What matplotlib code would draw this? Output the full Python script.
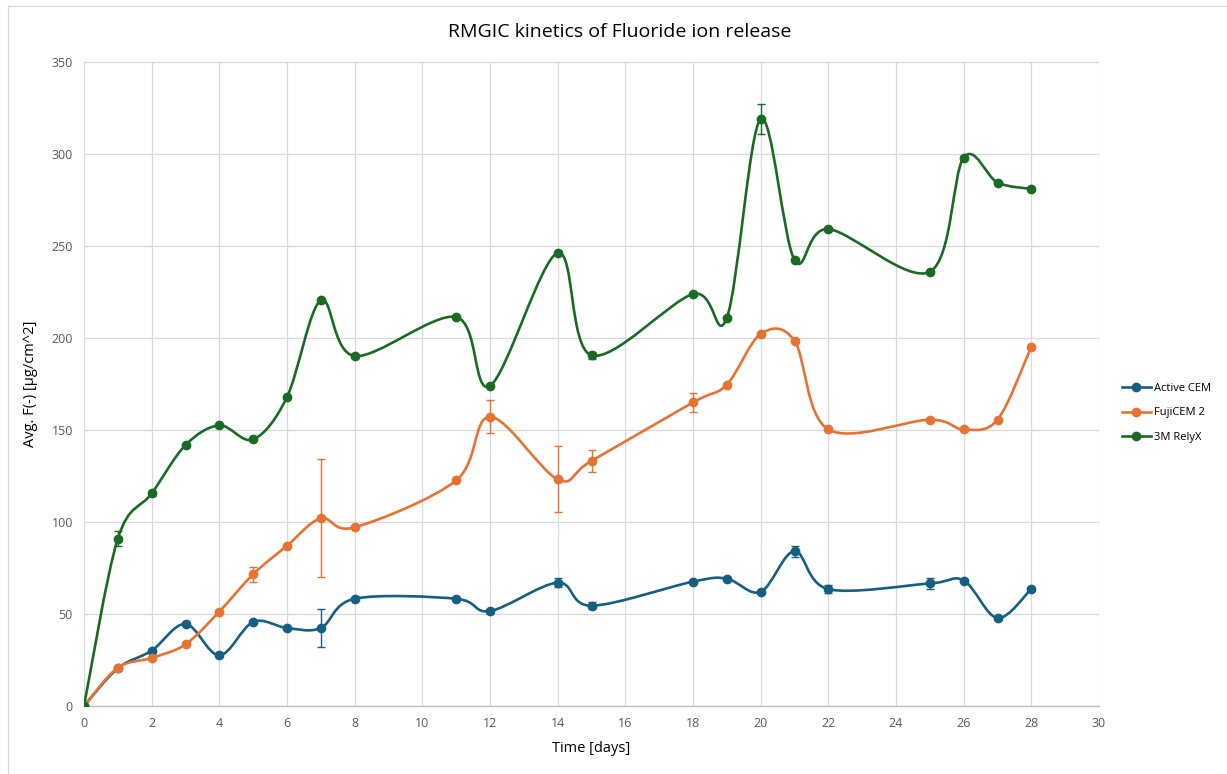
import numpy as np
import matplotlib
matplotlib.use("Agg")
import matplotlib.pyplot as plt
from matplotlib.path import Path
from matplotlib.patches import PathPatch, Rectangle
from matplotlib.lines import Line2D

plt.rcParams['font.family'] = ['Open Sans', 'DejaVu Sans']

# ---- data ----
days = [0, 1, 2, 3, 4, 5, 6, 7, 8, 11, 12, 14, 15, 18, 19, 20, 21, 22, 25, 26, 27, 28]
active_cem = [0, 20.5, 30.1, 44.6, 27.5, 45.7, 42.4, 42.4, 58.3, 58.3, 51.6, 67.0, 54.5,
              67.6, 69.2, 62.0, 84.1, 63.5, 66.6, 68.2, 47.8, 63.7]
active_err = [0, 0.8, 0.8, 0.8, 0.8, 0.8, 0.8, 10.2, 0.8, 0.8, 0.8, 2.5, 2.0,
              0.8, 0.8, 0.8, 3.0, 2.0, 3.0, 1.0, 0.8, 0.8]
fuji_cem = [0, 20.8, 26.1, 33.5, 51.3, 71.6, 87.1, 102.0, 97.1, 122.6, 157.2, 123.2, 133.2,
            165.0, 174.7, 202.2, 198.5, 150.3, 155.6, 150.3, 155.6, 195.2]
fuji_err = [0, 0.5, 0.5, 0.5, 0.5, 4.0, 0.5, 32.0, 0.5, 0.5, 9.0, 18.0, 5.8,
            5.0, 0.5, 0.5, 0.5, 0.5, 0.5, 0.5, 0.5, 0.5]
relyx = [0, 91.0, 115.5, 141.8, 152.5, 144.9, 167.9, 220.5, 190.2, 211.4, 174.0, 246.2, 190.6,
         223.9, 211.0, 319.0, 242.4, 259.2, 236.0, 298.0, 284.5, 281.0]
relyx_err = [0, 4.0, 1.5, 0.8, 0.8, 0.8, 0.8, 0.8, 0.8, 0.8, 0.8, 0.8, 2.0,
             0.8, 0.8, 8.3, 0.8, 0.8, 0.8, 0.8, 0.8, 0.8]

series_names = ["Active CEM", "FujiCEM 2", "3M RelyX"]
series_vals = [active_cem, fuji_cem, relyx]
series_errs = [active_err, fuji_err, relyx_err]
colors = ["#156082", "#E97132", "#196B24"]

x_ticks = list(range(0, 31, 2))
y_ticks = list(range(0, 351, 50))


def smooth_path(xs, ys):
    """Excel-like smoothed line: cubic Bezier segments through the data points."""
    pts = np.column_stack([xs, ys]).astype(float)
    n = len(pts)
    verts = [pts[0]]
    codes = [Path.MOVETO]
    for i in range(n - 1):
        p0 = pts[i - 1] if i > 0 else pts[i]
        p1 = pts[i]
        p2 = pts[i + 1]
        p3 = pts[i + 2] if i + 2 < n else pts[i + 1]
        c1 = p1 + (p2 - p0) / 6.0
        c2 = p2 - (p3 - p1) / 6.0
        verts += [c1, c2, p2]
        codes += [Path.CURVE4] * 3
    return Path(verts, codes)


fig = plt.figure(figsize=(12.27, 7.74), dpi=100)
ax = fig.add_axes([84 / 1227, 1 - 706 / 774, (1099 - 84) / 1227, (706 - 62) / 774])

# chart-area border (only top and left edges fall inside the image)
fig.lines.append(Line2D([7.5 / 1227, 1.0], [1 - 5.5 / 774, 1 - 5.5 / 774],
                        transform=fig.transFigure, color="#D9D9D9", lw=0.9))
fig.lines.append(Line2D([7.5 / 1227, 7.5 / 1227], [0.0, 1 - 5.5 / 774],
                        transform=fig.transFigure, color="#D9D9D9", lw=0.9))

handles = []
for name, vals, errs, c, z in zip(series_names, series_vals, series_errs, colors, [3, 4, 5]):
    patch = PathPatch(smooth_path(days, vals), fill=False, edgecolor=c, lw=1.9,
                      zorder=z, capstyle='round', joinstyle='round')
    ax.add_patch(patch)
    ax.errorbar(days, vals, yerr=errs, fmt='none', ecolor=c, elinewidth=1.0,
                capsize=3, capthick=1.0, zorder=z)
    ax.plot(days, vals, linestyle='none', marker='o', markersize=6.0,
            color=c, zorder=z + 0.5)
    handles.append(Line2D([0], [0], color=c, lw=1.9, marker='o', markersize=6.0))

ax.set_xlim(0, 30)
ax.set_ylim(0, 350)
ax.set_xticks(x_ticks)
ax.set_yticks(y_ticks)
ax.grid(True, color="#D9D9D9", lw=0.9)
ax.set_axisbelow(True)
for s in ["top", "right", "left"]:
    ax.spines[s].set_visible(False)
ax.spines["bottom"].set_color("#BFBFBF")
ax.spines["bottom"].set_linewidth(1.0)
ax.tick_params(axis='both', length=0, labelsize=9, labelcolor="#595959", pad=8)

ax.set_xlabel("Time [days]", fontsize=10.5, color="#000000", labelpad=8)
ax.set_ylabel("Avg. F(-) [µg/cm^2]", fontsize=10.5, color="#000000", labelpad=10)
fig.text(0.505, 1 - 32 / 774, "RMGIC kinetics of Fluoride ion release",
         ha='center', va='center', fontsize=14, color="#000000")

fig.legend(handles, series_names, loc='center left',
           bbox_to_anchor=(1112 / 1227, 1 - 413 / 774), frameon=False,
           fontsize=8, handlelength=2.6, labelspacing=1.2, handletextpad=0.3)

fig.savefig("out.png", dpi=100)
